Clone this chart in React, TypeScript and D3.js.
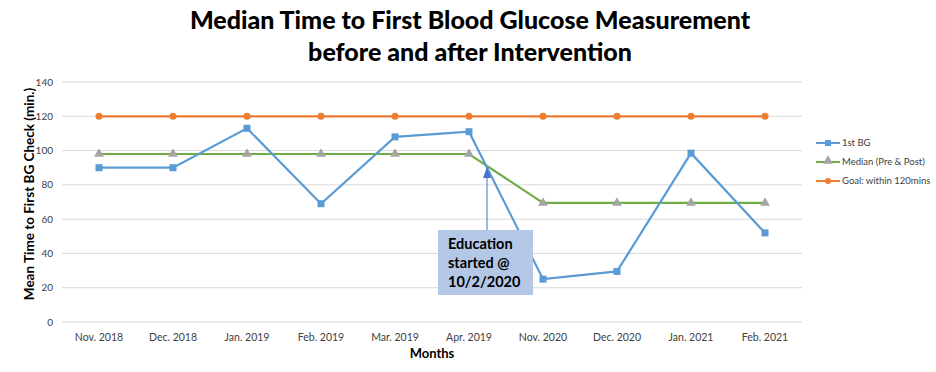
import * as d3 from 'd3'

const months = ['Nov. 2018', 'Dec. 2018', 'Jan. 2019', 'Feb. 2019', 'Mar. 2019', 'Apr. 2019', 'Nov. 2020', 'Dec. 2020', 'Jan. 2021', 'Feb. 2021']
const firstBG = [90, 90, 113, 69, 108, 111, 25, 29.5, 98.5, 52]
const median = [98, 98, 98, 98, 98, 98, 69.5, 69.5, 69.5, 69.5]
const goal = [120, 120, 120, 120, 120, 120, 120, 120, 120, 120]
const yTicks = [0, 20, 40, 60, 80, 100, 120, 140]

const W = 936
const H = 372
const FONT = 'Lato, "Open Sans", sans-serif'

const App = () => {
  const x = d3.scaleBand().domain(months).range([62, 802])
  const y = d3.scaleLinear().domain([0, 140]).range([322, 82])
  const cx = (m: string) => (x(m) || 0) + x.bandwidth() / 2

  const line = d3.line<number>()
    .x((_, i) => cx(months[i]))
    .y(d => y(d))

  const blue = '#5b9bd5'
  const green = '#70ad47'
  const orange = '#ed7d31'
  const grey = '#a5a5a5'
  const tri = d3.symbol().type(d3.symbolTriangle).size(42)()

  // annotation sits between Apr. 2019 and Nov. 2020
  const arrowX = cx(months[5]) + 18
  const boxX = 438
  const boxY = 230

  return (
    <svg width={W} height={H} style={{ position: 'absolute', left: 0, top: 0, background: '#fff' }} fontFamily={FONT}>
      <text x={470} y={29} textAnchor="middle" fontSize={25} fontWeight="900">Median Time to First Blood Glucose Measurement</text>
      <text x={470} y={61} textAnchor="middle" fontSize={25} fontWeight="900">before and after Intervention</text>

      {yTicks.map(t => (
        <g key={t}>
          <line x1={62} x2={802} y1={y(t)} y2={y(t)} stroke="#d9d9d9" strokeWidth={1} />
          <text x={53} y={y(t)} dy="0.35em" textAnchor="end" fontSize={10} fill="#404040">{t}</text>
        </g>
      ))}

      {months.map(m => (
        <text key={m} x={cx(m)} y={341} textAnchor="middle" fontSize={10.5} fill="#404040">{m}</text>
      ))}

      <text x={432} y={358} textAnchor="middle" fontSize={13} fontWeight="bold">Months</text>
      <text transform="translate(34,194) rotate(-90)" textAnchor="middle" fontSize={13.5} fontWeight="bold">Mean Time to First BG Check (min.)</text>

      {/* goal */}
      <path d={line(goal) || ''} fill="none" stroke={orange} strokeWidth={2.2} />
      {goal.map((v, i) => (
        <circle key={i} cx={cx(months[i])} cy={y(v)} r={3.5} fill={orange} />
      ))}

      {/* median */}
      <path d={line(median) || ''} fill="none" stroke={green} strokeWidth={2.2} />
      {median.map((v, i) => (
        <path key={i} d={tri || ''} transform={`translate(${cx(months[i])},${y(v)})`} fill={grey} />
      ))}

      {/* 1st BG */}
      <path d={line(firstBG) || ''} fill="none" stroke={blue} strokeWidth={2.2} />
      {firstBG.map((v, i) => (
        <rect key={i} x={cx(months[i]) - 3.5} y={y(v) - 3.5} width={7} height={7} fill={blue} />
      ))}

      {/* annotation */}
      <line x1={arrowX} x2={arrowX} y1={boxY} y2={178} stroke="#4472c4" strokeWidth={1} />
      <path d={`M${arrowX - 4},${178} L${arrowX + 4},${178} L${arrowX},${167} Z`} fill="#4472c4" />
      <rect x={boxX} y={boxY} width={95} height={65} fill="#b4c7e7" />
      <text x={boxX + 10} y={boxY + 19} fontSize={14.5} fontWeight="bold">Education</text>
      <text x={boxX + 10} y={boxY + 38} fontSize={14.5} fontWeight="bold">started @</text>
      <text x={boxX + 10} y={boxY + 57} fontSize={14.5} fontWeight="bold">10/2/2020</text>

      {/* legend */}
      {[
        { label: '1st BG', color: blue, mark: 'rect' },
        { label: 'Median (Pre & Post)', color: green, mark: 'tri' },
        { label: 'Goal: within 120mins', color: orange, mark: 'circle' }
      ].map((d, i) => {
        const ly = 143 + i * 19
        return (
          <g key={d.label}>
            <line x1={816} x2={840} y1={ly} y2={ly} stroke={d.color} strokeWidth={2} />
            {d.mark === 'rect' && <rect x={825} y={ly - 3} width={6} height={6} fill={d.color} />}
            {d.mark === 'tri' && <path d={tri || ''} transform={`translate(828,${ly - 1})`} fill={grey} />}
            {d.mark === 'circle' && <circle cx={828} cy={ly} r={3} fill={d.color} />}
            <text x={842} y={ly} dy="0.35em" fontSize={9.5} fill="#404040">{d.label}</text>
          </g>
        )
      })}
    </svg>
  )
}

export default App
